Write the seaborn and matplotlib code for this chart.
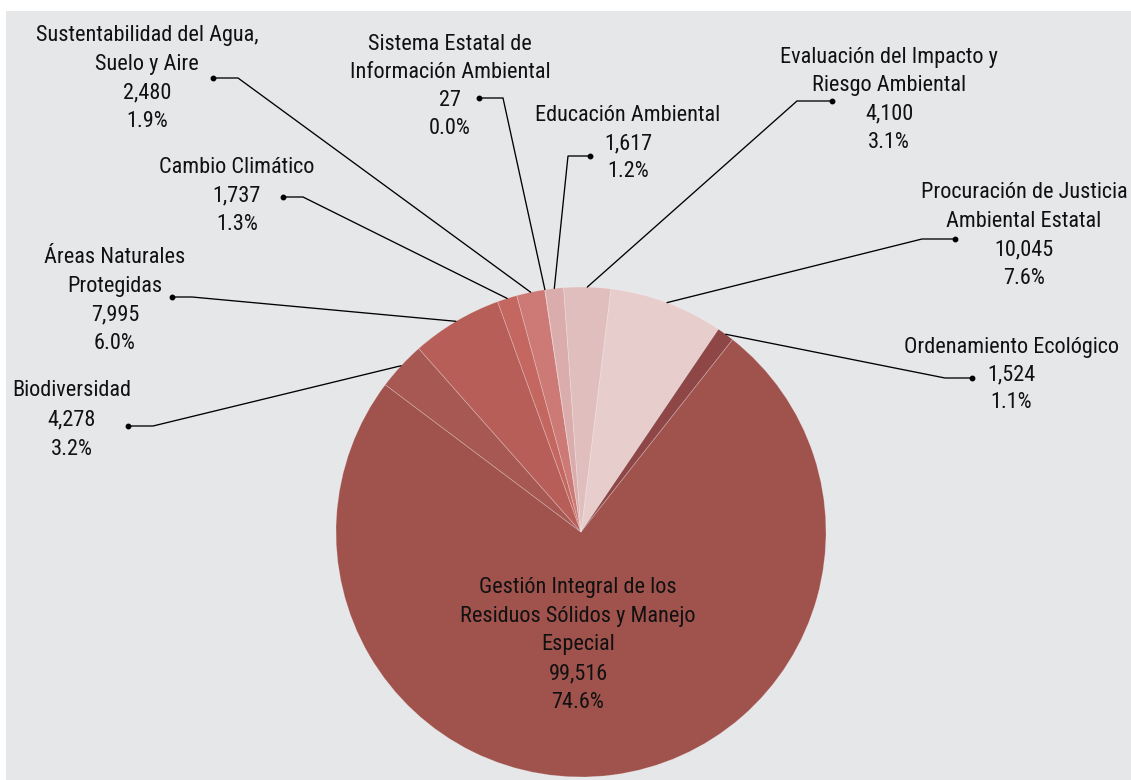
import numpy as np
import matplotlib
matplotlib.use("Agg")
import matplotlib.pyplot as plt
from matplotlib import font_manager as fm
from matplotlib.patches import Rectangle
import seaborn as sns

# ---------------- data ----------------
categories = [
    "Procuración de Justicia\nAmbiental Estatal",
    "Ordenamiento Ecológico",
    "Gestión Integral de los\nResiduos Sólidos y Manejo\nEspecial",
    "Biodiversidad",
    "Áreas Naturales\nProtegidas",
    "Cambio Climático",
    "Sustentabilidad del Agua,\nSuelo y Aire",
    "Sistema Estatal de\nInformación Ambiental",
    "Educación Ambiental",
    "Evaluación del Impacto y\nRiesgo Ambiental",
]
values = [10045, 1524, 99516, 4278, 7995, 1737, 2480, 27, 1617, 4100]
pct_labels = ["7.6%", "1.1%", "74.6%", "3.2%", "6.0%", "1.3%", "1.9%", "0.0%", "1.2%", "3.1%"]

colors = ["#E8CDCD", "#8E4646", "#A0524D", "#A85852", "#B75E59",
          "#C46760", "#CD7A76", "#D49696", "#DAACAC", "#E0BEBE"]

# ---------------- layout (pixels, y from top) ----------------
W, H = 1131, 780
CX, CY, R = 581, 532, 245
label_pos = [
    (1024, 190, 28.5),
    (1011, 345, 27.5),
    (578, 585, 28.7),
    (72, 388, 29.5),
    (115, 255, 28.5),
    (237, 165, 28.5),
    (147, 33, 28.5),
    (450, 42, 28.0),
    (628, 113, 28.0),
    (889, 55, 28.3),
]
leaders = [
    (922, 239, 955, 239),
    (945, 378, 972, 378),
    None,
    (153, 426, 128, 426),
    (192, 297, 172, 297),
    (303, 197, 283, 197),
    (238, 78, 213, 78),
    (503, 98, 479, 98),
    (568, 156, 590, 156),
    (797, 101, 832, 101),
]

# ---------------- style ----------------
sns.set_theme(style="white")
avail = {f.name for f in fm.fontManager.ttflist}
fam = "Liberation Sans"
for cand in ["Liberation Sans Narrow", "Arial Narrow", "Roboto Condensed"]:
    if cand in avail:
        fam = cand
        break
plt.rcParams["font.family"] = [fam, "DejaVu Sans"]

bg = "#E6E7E9"
fig = plt.figure(figsize=(W / 100, H / 100), dpi=100, facecolor="white")
ax = fig.add_axes([0, 0, 1, 1])

# choose font size so the reference line width (~222 px) is matched
probe = fig.text(0, 0, "Sustentabilidad del Agua,", fontsize=10)
rend = fig.canvas.get_renderer()
pw = probe.get_window_extent(renderer=rend).width
probe.remove()
fs = min(10 * 222 / pw, 17.2)

def Y(y):
    return H - y

ax.add_patch(Rectangle((6, 0), W - 6, H - 11, facecolor=bg, edgecolor="none", zorder=0))

pal = sns.color_palette(colors)
wedges, _ = ax.pie(values, colors=pal, startangle=83, counterclock=False,
                   center=(CX, Y(CY)), radius=R,
                   wedgeprops=dict(edgecolor=(1, 1, 1, 0.25), linewidth=0.6))
for w in wedges:
    w.set_zorder(2)

ax.set_xlim(0, W)
ax.set_ylim(0, H)
ax.set_aspect("equal")
ax.set_axis_off()

cap = fs * 100 / 72 * 0.36
for i, (name, val, pct) in enumerate(zip(categories, values, pct_labels)):
    lines = name.split("\n") + [f"{val:,}", pct]
    cx, y0, sp = label_pos[i]
    for k, t in enumerate(lines):
        ax.text(cx, Y(y0 + k * sp + cap), t, ha="center", va="baseline",
                fontsize=fs, color="#111111", zorder=5)
    if leaders[i] is not None:
        w = wedges[i]
        mid = np.deg2rad((w.theta1 + w.theta2) / 2)
        px = CX + R * np.cos(mid)
        py = Y(CY) + R * np.sin(mid)
        ex, ey, dx, dy = leaders[i]
        ax.plot([px, ex, dx], [py, Y(ey), Y(dy)], color="black", lw=0.95,
                solid_joinstyle="miter", zorder=4)
        ax.plot([dx], [Y(dy)], "o", color="black", ms=3.2, zorder=4)

fig.savefig("out.png", dpi=100, facecolor="white")
